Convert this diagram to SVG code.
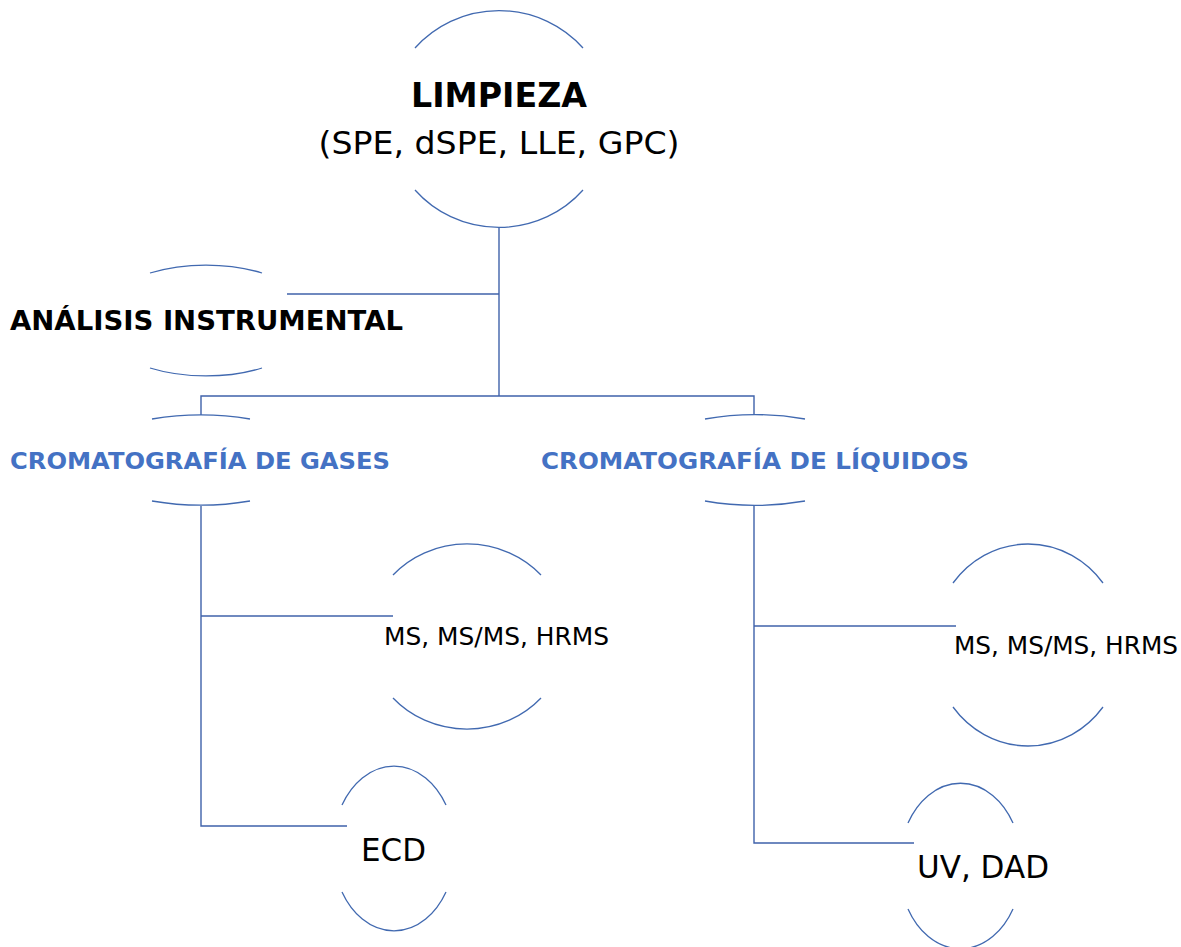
<svg xmlns="http://www.w3.org/2000/svg" width="1181" height="947" viewBox="0 0 1181 947">
<style>
.arc{fill:none;stroke:#4169B0;stroke-width:1.3}
.con{fill:none;stroke:#3F62AA;stroke-width:1.4}
.t{font-family:"DejaVu Sans","Verdana",sans-serif;fill:#000}
.b{font-weight:bold}
.blue{font-family:"DejaVu Sans","Verdana",sans-serif;font-weight:bold;fill:#4472C4}
</style>
<rect width="1181" height="947" fill="#fff"/>
<g id="connectors">
<polyline class="con" points="499,227 499,396"/>
<polyline class="con" points="287,294 499,294"/>
<polyline class="con" points="201,415 201,396 754,396 754,415"/>
<polyline class="con" points="201,506 201,826 347,826"/>
<polyline class="con" points="201,616 393,616"/>
<polyline class="con" points="754,506 754,843 914,843"/>
<polyline class="con" points="754,626 956,626"/>
</g>
<g id="limpieza">
<path class="arc" d="M415,48 A111,108 0 0 1 583,48"/>
<path class="arc" d="M415,190 A111,108 0 0 0 583,190"/>
<text class="t b" x="499" y="107" font-size="33" text-anchor="middle" textLength="176" lengthAdjust="spacingAndGlyphs">LIMPIEZA</text>
<text class="t" x="499" y="154" font-size="32" text-anchor="middle" textLength="361" lengthAdjust="spacingAndGlyphs">(SPE, dSPE, LLE, GPC)</text>
</g>
<g id="analisis">
<path class="arc" d="M150,273 A109,56 0 0 1 262,273"/>
<path class="arc" d="M150,368 A109,56 0 0 0 262,368"/>
<text class="t b" x="206.5" y="330" font-size="27" text-anchor="middle" textLength="393" lengthAdjust="spacingAndGlyphs">ANÁLISIS INSTRUMENTAL</text>
</g>
<g id="gases">
<path class="arc" d="M152,419 A119.5,45.5 0 0 1 250,419"/>
<path class="arc" d="M152,501 A119.5,45.5 0 0 0 250,501"/>
<text class="blue" x="200" y="469" font-size="23" text-anchor="middle" textLength="380" lengthAdjust="spacingAndGlyphs">CROMATOGRAFÍA DE GASES</text>
</g>
<g id="liquidos">
<path class="arc" d="M705,419 A119.5,45.5 0 0 1 805,419"/>
<path class="arc" d="M705,501 A119.5,45.5 0 0 0 805,501"/>
<text class="blue" x="755" y="469" font-size="23" text-anchor="middle" textLength="428" lengthAdjust="spacingAndGlyphs">CROMATOGRAFÍA DE LÍQUIDOS</text>
</g>
<g id="ms-gases">
<path class="arc" d="M393,575 A99,92.5 0 0 1 541,575"/>
<path class="arc" d="M393,698 A99,92.5 0 0 0 541,698"/>
<text class="t" x="384" y="645" font-size="25" textLength="225" lengthAdjust="spacingAndGlyphs">MS, MS/MS, HRMS</text>
</g>
<g id="ecd">
<path class="arc" d="M342,805 A61,81.5 0 0 1 446,805"/>
<path class="arc" d="M342,892 A61,81.5 0 0 0 446,892"/>
<text class="t" x="361" y="861" font-size="32" textLength="65" lengthAdjust="spacingAndGlyphs">ECD</text>
</g>
<g id="ms-liquidos">
<path class="arc" d="M953,583 A95,101 0 0 1 1103,583"/>
<path class="arc" d="M953,707 A95,101 0 0 0 1103,707"/>
<text class="t" x="954" y="654" font-size="25" textLength="224" lengthAdjust="spacingAndGlyphs">MS, MS/MS, HRMS</text>
</g>
<g id="uv-dad">
<path class="arc" d="M908,823 A61,81 0 0 1 1013,823"/>
<path class="arc" d="M908,909 A61,81 0 0 0 1013,909"/>
<text class="t" x="917" y="878" font-size="32" textLength="132" lengthAdjust="spacingAndGlyphs">UV, DAD</text>
</g>
</svg>
